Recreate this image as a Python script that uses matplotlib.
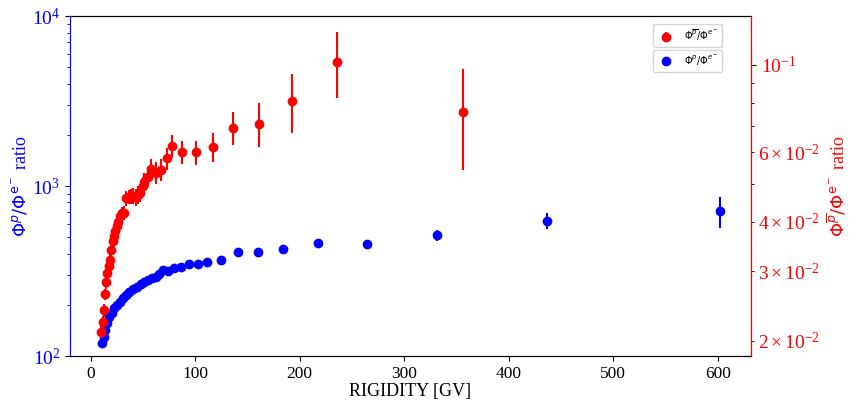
import numpy as np
import matplotlib
matplotlib.use('Agg')
import matplotlib.pyplot as plt

plt.rcParams['font.family'] = ['Liberation Serif', 'DejaVu Serif']
plt.rcParams['mathtext.fontset'] = 'stix'

# antiproton / electron ratio (right axis)
rig_pbar = [10.0, 11.6, 12.6, 13.8, 14.5, 16.0, 17.4, 18.3, 19.9, 21.5, 22.4, 23.7,
            25.3, 26.5, 28.5, 29.7, 32.3, 34.2, 36.4, 38.6, 40.6, 43.4, 45.6, 47.5,
            49.8, 51.4, 54.6, 57.7, 62.8, 67.3, 73.0, 77.5, 87.0, 100.4, 117.0, 136.0,
            161.0, 193.0, 236.0, 356.0]
ratio_pbar = [0.0211, 0.0223, 0.0239, 0.0262, 0.0281, 0.0297, 0.0310, 0.0321, 0.0339,
              0.0357, 0.0368, 0.0379, 0.0390, 0.0401, 0.0413, 0.0421, 0.0421, 0.0459,
              0.0463, 0.0464, 0.0466, 0.0463, 0.0469, 0.0475, 0.0494, 0.0504, 0.0520,
              0.0545, 0.0532, 0.0542, 0.0580, 0.0624, 0.0600, 0.0600, 0.0619, 0.0692,
              0.0709, 0.0811, 0.1018, 0.0760]
err_pbar = [0.0008, 0.0008, 0.0009, 0.0009, 0.0010, 0.0010, 0.0011, 0.0011, 0.0012,
            0.0012, 0.0013, 0.0013, 0.0014, 0.0015, 0.0015, 0.0016, 0.0017, 0.0019,
            0.0020, 0.0021, 0.0022, 0.0023, 0.0024, 0.0025, 0.0027, 0.0028, 0.0030,
            0.0032, 0.0034, 0.0035, 0.0037, 0.0042, 0.0040, 0.0042, 0.0052, 0.0067,
            0.0090, 0.0137, 0.0195, 0.0217]

# proton / electron ratio (left axis)
rig_p = [10.7, 12.6, 13.8, 15.7, 18.0, 20.2, 22.7, 25.3, 28.5, 30.7, 33.9, 37.0,
         40.3, 44.4, 48.2, 51.4, 55.2, 58.4, 62.5, 65.7, 68.9, 74.3, 80.0, 86.4,
         94.3, 102.3, 111.8, 125.2, 141.0, 160.5, 184.0, 218.0, 264.0, 331.0, 437.0, 602.0]
ratio_p = [118.8, 130, 142, 155.8, 169, 180, 190.6, 199.5, 208.6, 218, 228.5, 237,
           246.8, 255.6, 265, 273.6, 280, 286.6, 293, 302, 320.6, 317.5, 328, 335,
           346, 347.6, 358.6, 367, 407.5, 407.5, 428, 464, 454, 513, 625, 713]
err_p = [1.5, 1.6, 1.8, 2.0, 2.2, 2.4, 2.6, 2.8, 3.0, 3.2, 3.4, 3.6,
         3.8, 4.0, 4.3, 4.6, 5.0, 5.3, 5.6, 6.0, 6.4, 6.8, 7.2, 7.6,
         8.0, 8.5, 9.0, 9.5, 10, 11, 12, 15, 20, 35, 70, 150]

fig, ax = plt.subplots(figsize=(8.5, 4.01), dpi=100)
fig.subplots_adjust(left=0.0824, right=0.8835, bottom=0.1122, top=0.960)

l1 = ax.errorbar(rig_p, ratio_p, yerr=err_p, fmt='o', color='blue', ms=6, elinewidth=1.5,
                 label=r'$\Phi^{p}/\Phi^{e^-}$')
ax.set_yscale('log')
ax.set_ylim(1e2, 1e4)
ax.set_xlabel('RIGIDITY [GV]', fontsize=13, labelpad=1)
ax.set_ylabel(r'$\Phi^{p}/\Phi^{\rm e^-}$ ratio', fontsize=13, color='blue',
              math_fontfamily='dejavusans', labelpad=1)
ax.tick_params(axis='y', labelcolor='blue', labelsize=14)
ax.tick_params(axis='x', labelsize=12.5)
ax.spines['left'].set_color('blue')

ax2 = ax.twinx()
l2 = ax2.errorbar(rig_pbar, ratio_pbar, yerr=err_pbar, fmt='o', color='red', ms=6,
                  elinewidth=1.5, label=r'$\Phi^{\overline{p}}/\Phi^{e^-}$')
ax2.set_yscale('log')
ax2.set_ylim(0.0183, 0.133)
ax2.set_ylabel(r'$\Phi^{\overline{p}}/\Phi^{\rm e^-}$ ratio', fontsize=13, color='red',
               math_fontfamily='dejavusans', labelpad=4)
ax2.tick_params(axis='y', which='both', labelcolor='red', labelsize=14)
ax2.spines['right'].set_color('red')
ax2.spines['left'].set_color('blue')

leg1 = ax2.legend(handles=[l2], loc='upper right', bbox_to_anchor=(0.965, 0.99),
                  prop={'family': 'DejaVu Sans', 'size': 7})
for t in leg1.get_texts():
    t.set_math_fontfamily('dejavusans')
ax2.add_artist(leg1)
leg2 = ax2.legend(handles=[l1], loc='upper right', bbox_to_anchor=(0.965, 0.915),
                  prop={'family': 'DejaVu Sans', 'size': 7})
for t in leg2.get_texts():
    t.set_math_fontfamily('dejavusans')

fig.savefig('out.png', dpi=100)
